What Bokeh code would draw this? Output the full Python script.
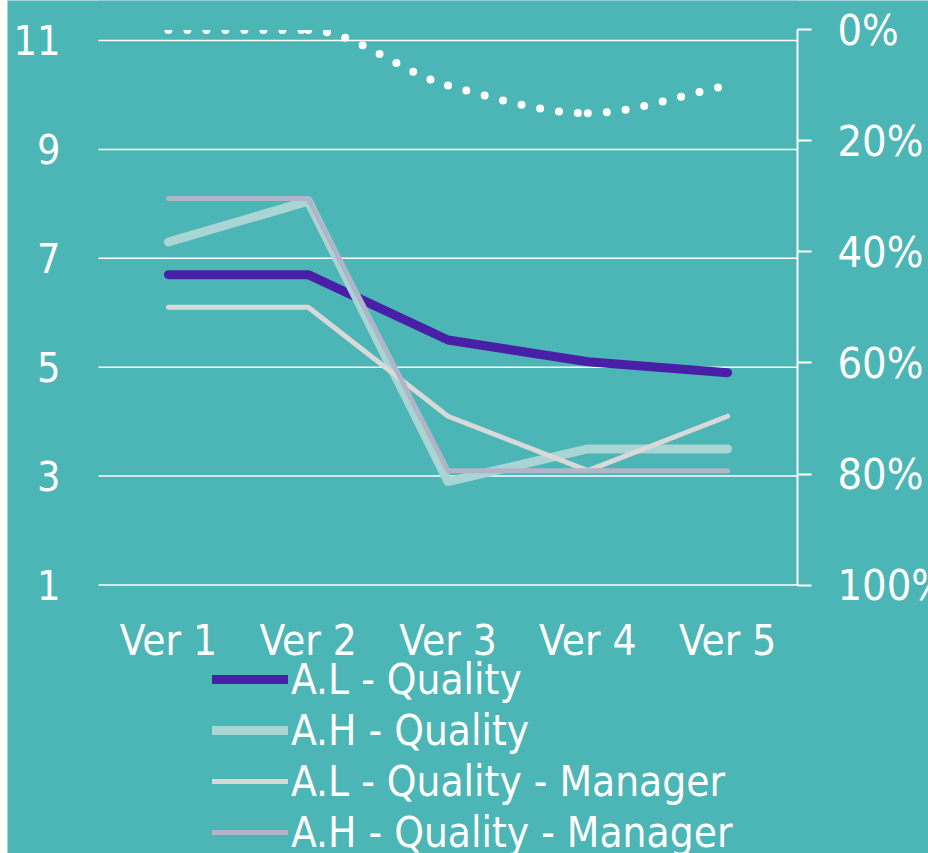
from bokeh.plotting import figure
from bokeh.models import (Range1d, LinearAxis, FixedTicker, Legend,
                          LegendItem, Spacer, NumeralTickFormatter)
from bokeh.layouts import row
from bokeh.embed import file_html
from bokeh.resources import INLINE

# ---------------- data ----------------
versions = ["Ver 1", "Ver 2", "Ver 3", "Ver 4", "Ver 5"]
al_quality = [6.7, 6.7, 5.5, 5.1, 4.9]
ah_quality = [7.3, 8.05, 2.9, 3.5, 3.5]
al_manager = [6.1, 6.1, 4.1, 3.1, 4.1]
ah_manager = [8.1, 8.1, 3.1, 3.1, 3.1]
gap_pct = [0.0, 0.0, 0.10, 0.15, 0.10]
series_names = ["A.L - Quality", "A.H - Quality",
                "A.L - Quality - Manager", "A.H - Quality - Manager"]
left_ticks = [1, 3, 5, 7, 9, 11]
right_ticks = [0.0, 0.2, 0.4, 0.6, 0.8, 1.0]

# ---------------- style ----------------
BG = "#4CB5B5"
FONT = "DejaVu Sans Condensed"
colors = ["#4A1FA8", "#A9D5D5", "#D9D9D9", "#B0B5C8"]
widths = [9, 9, 5, 5]

# category positions on a numeric axis (one unit per category)
xs = [i + 0.5 for i in range(len(versions))]
n = len(xs)

# The plotting frame fills the whole figure; the axes are drawn at fixed
# locations inside it and the ranges extend past the drawn scales.
PCT_TOP = -0.05315
p = figure(width=921, height=853, output_backend="svg", toolbar_location=None,
           x_range=Range1d(-0.651, 5.937), y_range=Range1d(-3.931, 11.7346),
           min_border_left=0, min_border_right=0,
           min_border_top=0, min_border_bottom=0)
p.extra_y_ranges = {"pct": Range1d(start=1.48378, end=PCT_TOP)}

p.background_fill_color = BG
p.border_fill_color = BG
p.outline_line_color = None
p.xgrid.visible = False
p.ygrid.visible = False

# horizontal grid lines at the left-axis ticks, across the category span
p.segment(x0=[0] * len(left_ticks), x1=[n] * len(left_ticks),
          y0=left_ticks, y1=left_ticks, line_color="white", line_width=1.5)

# left axis
la = p.yaxis[0]
la.ticker = FixedTicker(ticks=left_ticks)
la.fixed_location = 0
la.axis_line_color = None
la.major_tick_line_color = None
la.minor_tick_line_color = None
la.major_label_text_color = "white"
la.major_label_text_font = FONT
la.major_label_text_font_size = "41px"
la.major_label_standoff = 32

# bottom axis (category labels), drawn at the value 1 line
xa = p.xaxis[0]
xa.ticker = FixedTicker(ticks=xs)
xa.major_label_overrides = {x: v for x, v in zip(xs, versions)}
xa.fixed_location = left_ticks[0]
xa.axis_line_color = None
xa.major_tick_line_color = None
xa.minor_tick_line_color = None
xa.major_label_text_color = "white"
xa.major_label_text_font = FONT
xa.major_label_text_font_size = "42px"
xa.major_label_standoff = 25

# right axis (percent, reversed), at the right end of the category span
ra = LinearAxis(y_range_name="pct", ticker=FixedTicker(ticks=right_ticks),
                fixed_location=n, bounds=(0, 1),
                formatter=NumeralTickFormatter(format="0%"))
ra.axis_line_color = "white"
ra.axis_line_width = 2
ra.major_tick_line_color = "white"
ra.major_tick_line_width = 2
ra.major_tick_out = 14
ra.major_tick_in = 0
ra.minor_tick_line_color = None
ra.major_label_text_color = "white"
ra.major_label_text_font = FONT
ra.major_label_text_font_size = "43px"
ra.major_label_standoff = 26
p.add_layout(ra, "right")

# series lines
renderers = []
for vals, c, w in zip([al_quality, ah_quality, al_manager, ah_manager], colors, widths):
    r = p.line(xs, vals, line_color=c, line_width=w,
               line_cap="round", line_join="round")
    renderers.append(r)

# smoothed dotted percentage line: monotone cubic (Fritsch-Carlson tangents)
# through the data points, drawn as Bezier segments
sec = [(gap_pct[i + 1] - gap_pct[i]) / (xs[i + 1] - xs[i]) for i in range(n - 1)]
tan = [sec[0]]
for i in range(1, n - 1):
    d_a, d_b = sec[i - 1], sec[i]
    tan.append(0.0 if d_a * d_b <= 0 else 2 * d_a * d_b / (d_a + d_b))
tan.append(sec[-1])
x0, y0, x1, y1, cx0, cy0, cx1, cy1 = ([] for _ in range(8))
for i in range(n - 1):
    h = xs[i + 1] - xs[i]
    x0.append(xs[i]); y0.append(gap_pct[i])
    x1.append(xs[i + 1]); y1.append(gap_pct[i + 1])
    cx0.append(xs[i] + h / 3); cy0.append(gap_pct[i] + tan[i] * h / 3)
    cx1.append(xs[i + 1] - h / 3); cy1.append(gap_pct[i + 1] - tan[i + 1] * h / 3)
p.bezier(x0=x0, y0=y0, x1=x1, y1=y1, cx0=cx0, cy0=cy0, cx1=cx1, cy1=cy1,
         y_range_name="pct", line_color="white", line_width=8,
         line_dash="0 19", line_cap="round")

# the plot area ends at the 0% line: mask what lies above it
p.quad(left=0, right=n, bottom=right_ticks[0], top=PCT_TOP, y_range_name="pct",
       fill_color=BG, line_color=None)

legend = Legend(items=[LegendItem(label=nm, renderers=[r])
                       for nm, r in zip(series_names, renderers)],
                location=(205, -4), orientation="vertical",
                glyph_width=76, glyph_height=50, label_height=50,
                label_standoff=3, spacing=1, padding=0, margin=0,
                background_fill_alpha=0, border_line_alpha=0,
                label_text_color="white", label_text_font=FONT,
                label_text_font_size="42px")
p.add_layout(legend)

layout = row(Spacer(width=7, height=853), p)
open("out.html", "w").write(file_html(layout, INLINE))
